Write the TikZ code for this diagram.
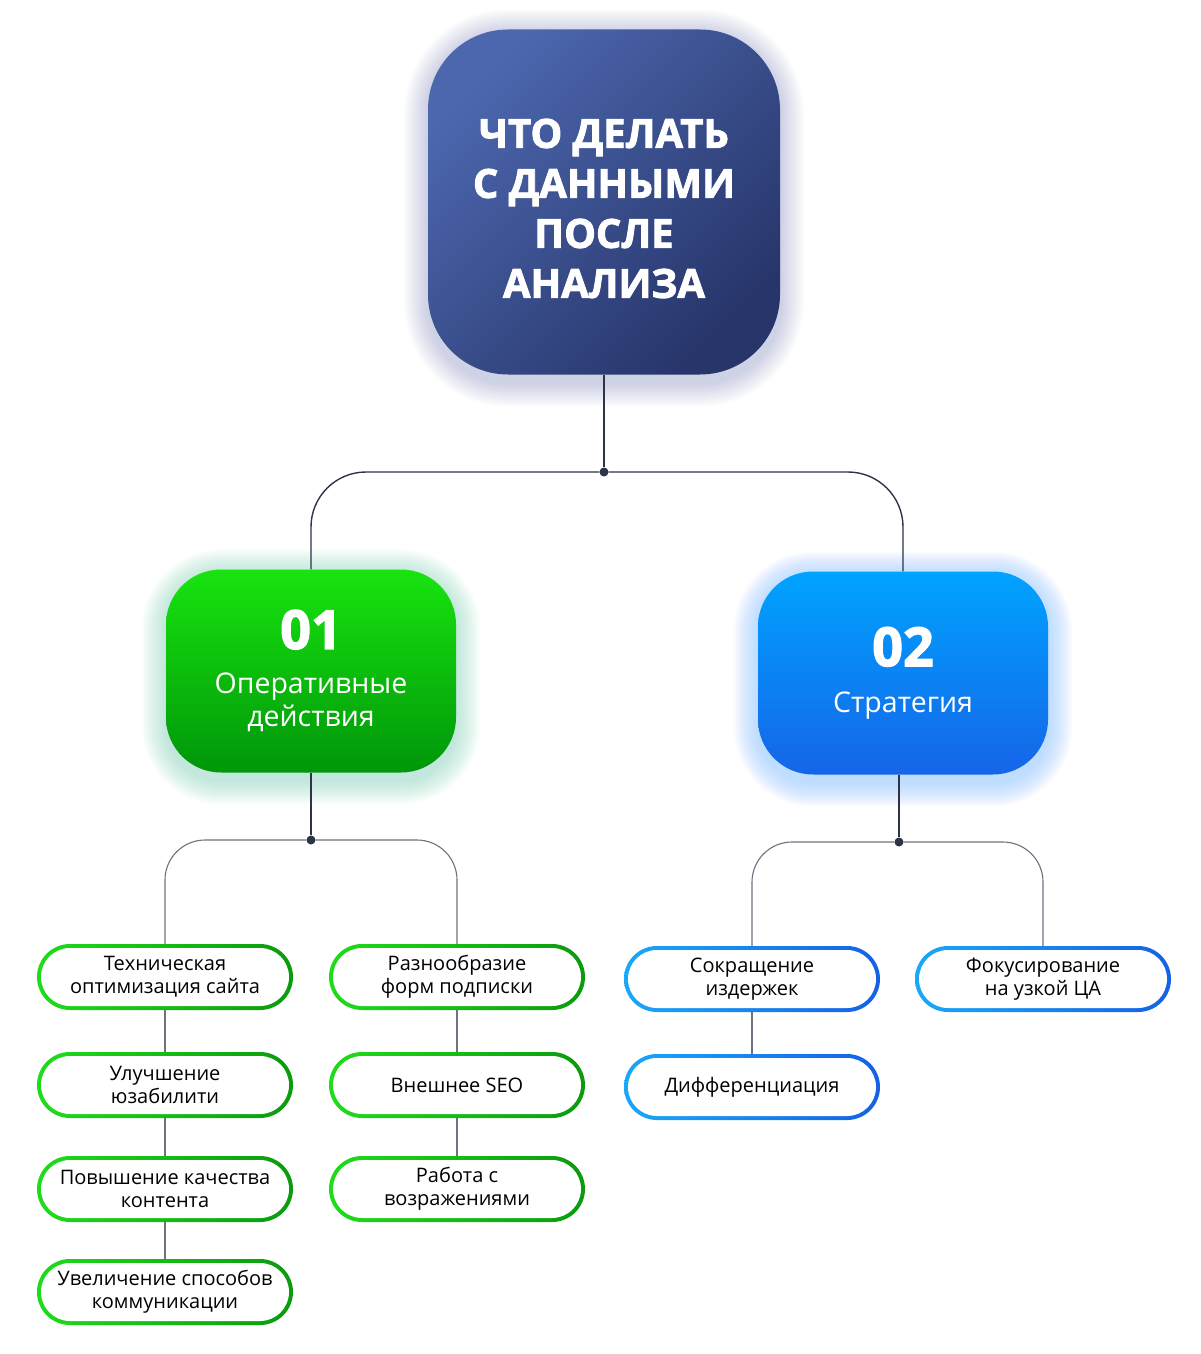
\documentclass[tikz,border=0pt]{standalone}
\usepackage{fontspec}
\setmainfont{Open Sans}
\newfontfamily\heavyfont[BoldFeatures={FakeBold=2.2}]{Open Sans}
\usetikzlibrary{positioning,backgrounds}
\definecolor{topA}{RGB}{76,103,174}
\definecolor{topB}{RGB}{39,53,106}
\definecolor{topglow}{RGB}{150,162,200}
\definecolor{opsA}{RGB}{24,228,15}
\definecolor{opsB}{RGB}{0,150,10}
\definecolor{opsglow}{RGB}{150,225,200}
\definecolor{stratA}{RGB}{0,163,255}
\definecolor{stratB}{RGB}{21,101,232}
\definecolor{stratglow}{RGB}{140,200,255}
\definecolor{gleafA}{RGB}{31,220,26}
\definecolor{gleafB}{RGB}{11,154,14}
\definecolor{bleafA}{RGB}{25,168,248}
\definecolor{bleafB}{RGB}{21,97,230}
\definecolor{linedark}{RGB}{45,52,72}
\definecolor{linegray}{RGB}{110,115,127}

\begin{document}
\begin{tikzpicture}[
  x=1pt,y=-1pt,
  trunk/.style={draw=linedark,line width=1.4pt},
  twig/.style={draw=linegray,line width=1.1pt},
  dot/.style={circle,fill=linedark,inner sep=0pt,minimum size=9pt},
  topbox/.style={rectangle,rounded corners=80pt,minimum width=352pt,minimum height=345pt,
    top color=topA,bottom color=topB,shading angle=45,text=white,align=center,
    font=\heavyfont\bfseries\fontsize{40}{50}\selectfont},
  sect/.style={rectangle,rounded corners=55pt,minimum width=290pt,minimum height=203pt,
    shading angle=45,text=white,align=center,font=\fontsize{28.5}{33}\selectfont},
  leaf/.style={rectangle,rounded corners=33pt,minimum width=256pt,minimum height=66pt,
    inner sep=0pt,align=center,font=\fontsize{20}{23}\selectfont,
    path picture={\fill[white,rounded corners=29pt]
      ([shift={(4pt,-4pt)}]path picture bounding box.north west) rectangle
      ([shift={(-4pt,4pt)}]path picture bounding box.south east);}},
  gleaf/.style={leaf,left color=gleafA,right color=gleafB},
  bleaf/.style={leaf,left color=bleafA,right color=bleafB}]
  \useasboundingbox (0,0) rectangle (1200,1354);

  % main boxes
  \node[topbox](top) at(604,202){\rule{0pt}{42pt}ЧТО ДЕЛАТЬ\\С ДАННЫМИ\\ПОСЛЕ\\АНАЛИЗА};
  \node[sect,top color=opsA,bottom color=opsB](ops) at(311,671)
    {{\heavyfont\bfseries\fontsize{54}{54}\selectfont 01}\\[12pt]Оперативные\\действия};
  \node[sect,top color=stratA,bottom color=stratB](strat) at(903,673)
    {{\heavyfont\bfseries\fontsize{54}{54}\selectfont 02}\\[13pt]Стратегия};

  % leaves
  \node[gleaf](t1) at(165,977){Техническая\\оптимизация сайта};
  \node[gleaf](t2) at(165,1085){Улучшение\\юзабилити};
  \node[gleaf](t3) at(165,1189){Повышение качества\\контента};
  \node[gleaf](t4) at(165,1292){Увеличение способов\\коммуникации};
  \node[gleaf](r1) at(457,977){Разнообразие\\форм подписки};
  \node[gleaf](r2) at(457,1085){Внешнее SEO};
  \node[gleaf](r3) at(457,1189){Работа с\\возражениями};
  \node[bleaf](s1) at(752,979){Сокращение\\издержек};
  \node[bleaf](s2) at(752,1087){Дифференциация};
  \node[bleaf](f1) at(1043,979){Фокусирование\\на узкой ЦА};

  % junctions
  \node[dot](j1) at(604,472){};
  \node[dot](j2) at(311,840){};
  \node[dot](j3) at(899,842){};

  \draw[trunk](top)--(j1);
  \draw[trunk,rounded corners=55pt](ops.north)|-(j1)-|(strat.north);
  \draw[trunk](ops.south-|j2)--(j2);
  \draw[trunk](strat.south-|j3)--(j3);
  \draw[twig,rounded corners=40pt](t1.north)|-(j2)-|(r1.north);
  \draw[twig,rounded corners=40pt](s1.north)|-(j3)-|(f1.north);
  \draw[twig](t1)--(t2);
  \draw[twig](t2)--(t3);
  \draw[twig](t3)--(t4);
  \draw[twig](r1)--(r2);
  \draw[twig](r2)--(r3);
  \draw[twig](s1)--(s2);

  % white page and glows
  \begin{scope}[on background layer]
    \fill[white](0,0) rectangle (1200,1354);
    \foreach \g in {1,...,24}{
      \fill[topglow,opacity=0.018,rounded corners=80pt+\g pt]
        ([shift={(-\g pt,\g pt-4pt)}]top.north west) rectangle ([shift={(\g pt,-\g pt-8pt)}]top.south east);
      \fill[opsglow,opacity=0.028,rounded corners=55pt+\g pt]
        ([shift={(-\g pt,\g pt-4pt)}]ops.north west) rectangle ([shift={(\g pt,-\g pt-8pt)}]ops.south east);
      \fill[stratglow,opacity=0.028,rounded corners=55pt+\g pt]
        ([shift={(-\g pt,\g pt-4pt)}]strat.north west) rectangle ([shift={(\g pt,-\g pt-8pt)}]strat.south east);
    }
  \end{scope}
\end{tikzpicture}
\end{document}
